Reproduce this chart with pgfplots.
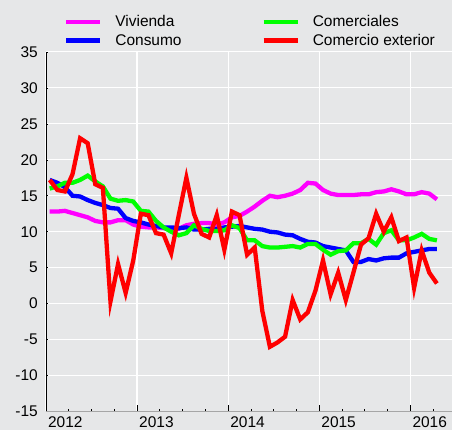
\documentclass[border=0pt]{standalone}
\usepackage{pgfplots}
\pgfplotsset{compat=1.18}
\usepackage{pgfplotstable}
\usepackage{fontspec}
\setmainfont{Liberation Sans}
\definecolor{bg}{HTML}{E6E7E8}
\definecolor{zeroline}{HTML}{555555}
\definecolor{cviv}{HTML}{FF00FF}
\definecolor{ccon}{HTML}{0000FF}
\definecolor{ccom}{HTML}{00FF00}
\definecolor{cext}{HTML}{FF0000}

\pgfplotstableread{
i viv con com ext
0 12.8 17.2 16.0 17.2
1 12.8 16.8 16.3 15.8
2 12.9 16.2 16.8 15.6
3 12.6 15.0 16.8 18.0
4 12.3 14.9 17.2 23.0
5 12.0 14.4 17.8 22.3
6 11.5 14.0 17.0 16.6
7 11.3 13.7 16.3 16.1
8 11.3 13.3 14.6 0.3
9 11.6 13.2 14.3 5.5
10 11.6 11.9 14.4 1.5
11 11.0 11.5 14.2 6.0
12 10.7 11.3 12.9 12.5
13 10.6 11.0 12.8 12.3
14 10.6 10.8 11.5 9.8
15 10.5 10.6 10.6 9.6
16 10.3 10.6 10.0 7.0
17 10.4 10.5 9.5 12.3
18 10.9 10.6 9.8 17.5
19 11.1 10.3 10.9 12.5
20 11.2 10.3 10.4 9.7
21 11.2 10.4 10.1 9.2
22 11.0 10.4 10.1 12.3
23 11.3 10.6 10.2 7.5
24 12.0 10.7 10.9 12.8
25 12.2 10.8 10.5 12.3
26 12.8 10.6 8.8 6.8
27 13.5 10.4 8.8 7.8
28 14.3 10.3 8.0 -1.0
29 15.0 10.0 7.8 -6.0
30 14.8 9.9 7.8 -5.4
31 15.0 9.6 7.9 -4.6
32 15.3 9.5 8.0 0.5
33 15.8 9.0 7.8 -2.2
34 16.8 8.6 8.3 -1.2
35 16.7 8.5 8.3 1.8
36 15.8 8.0 7.5 6.0
37 15.3 7.8 6.8 1.3
38 15.1 7.6 7.3 4.3
39 15.1 7.4 7.4 0.5
40 15.1 5.8 8.4 4.3
41 15.2 5.8 8.4 8.2
42 15.2 6.2 9.0 9.1
43 15.5 6.0 8.2 12.5
44 15.6 6.3 9.8 10.0
45 15.9 6.4 10.2 12.0
46 15.6 6.4 8.8 8.7
47 15.2 7.0 8.8 9.2
48 15.2 7.2 9.2 2.2
49 15.5 7.4 9.7 7.4
50 15.3 7.6 9.0 4.3
51 14.5 7.6 8.8 2.8
}\data

\begin{document}
\begin{tikzpicture}
\fill[bg] (-46pt,-19pt) rectangle (407pt,412pt);
\begin{axis}[
  at={(0pt,0pt)}, anchor=south west,
  scale only axis, width=407pt, height=360pt,
  xmin=-0.5, xmax=53.05, ymin=-15, ymax=35,
  axis x line*=bottom, axis y line*=left,
  x axis line style={draw=gray!70, line width=0.8pt},
  y axis line style={draw=black, line width=0.8pt},
  xtick={-0.5,11.5,23.5,35.5,47.5},
  xticklabels={2012,2013,2014,2015,2016},
  minor xtick={2.5,5.5,8.5,14.5,17.5,20.5,26.5,29.5,32.5,38.5,41.5,44.5,50.5},
  ytick={-15,-10,...,35},
  tick align=inside,
  major tick length=7pt, minor tick length=3pt,
  xtick style={draw=black, line width=0.8pt},
  every minor tick/.append style={draw=black, line width=0.8pt},
  ytick style={draw=black, line width=0.6pt, /pgfplots/major tick length=2.5pt},
  grid=major,
  major grid style={draw=white, line width=1.1pt},
  extra y ticks={0}, extra y tick labels={},
  extra y tick style={grid style={draw=zeroline, line width=1.3pt}},
  tick label style={font=\fontsize{15.5}{18}\selectfont},
  /pgf/number format/assume math mode=true,
  xticklabel style={anchor=north west, inner sep=0pt, xshift=2pt, yshift=-5pt},
  yticklabel style={anchor=east, inner sep=0pt, xshift=-8pt},
  legend style={draw=none, fill=none,
    at={(axis description cs:0,1)}, anchor=south west,
    xshift=18pt, yshift=5pt,
    font=\fontsize{15.5}{18}\selectfont,
    inner sep=0pt, row sep=6pt,
    nodes={inner sep=0pt},
    /tikz/every odd column/.append style={column sep=13pt},
    /tikz/every even column/.append style={column sep=80pt}},
  legend image code/.code={\draw[#1] (0pt,0pt) -- (34pt,0pt);},
  legend cell align=left,
  transpose legend,
  legend columns=2,
  every axis plot/.append style={line width=4.3pt, mark=none},
]
\addplot[cviv] table[x=i, y=viv] {\data};
\addlegendentry{Vivienda}
\addplot[ccon] table[x=i, y=con] {\data};
\addlegendentry{Consumo}
\addplot[ccom] table[x=i, y=com] {\data};
\addlegendentry{Comerciales}
\addplot[cext] table[x=i, y=ext] {\data};
\addlegendentry{Comercio exterior}
\end{axis}
\end{tikzpicture}
\end{document}
